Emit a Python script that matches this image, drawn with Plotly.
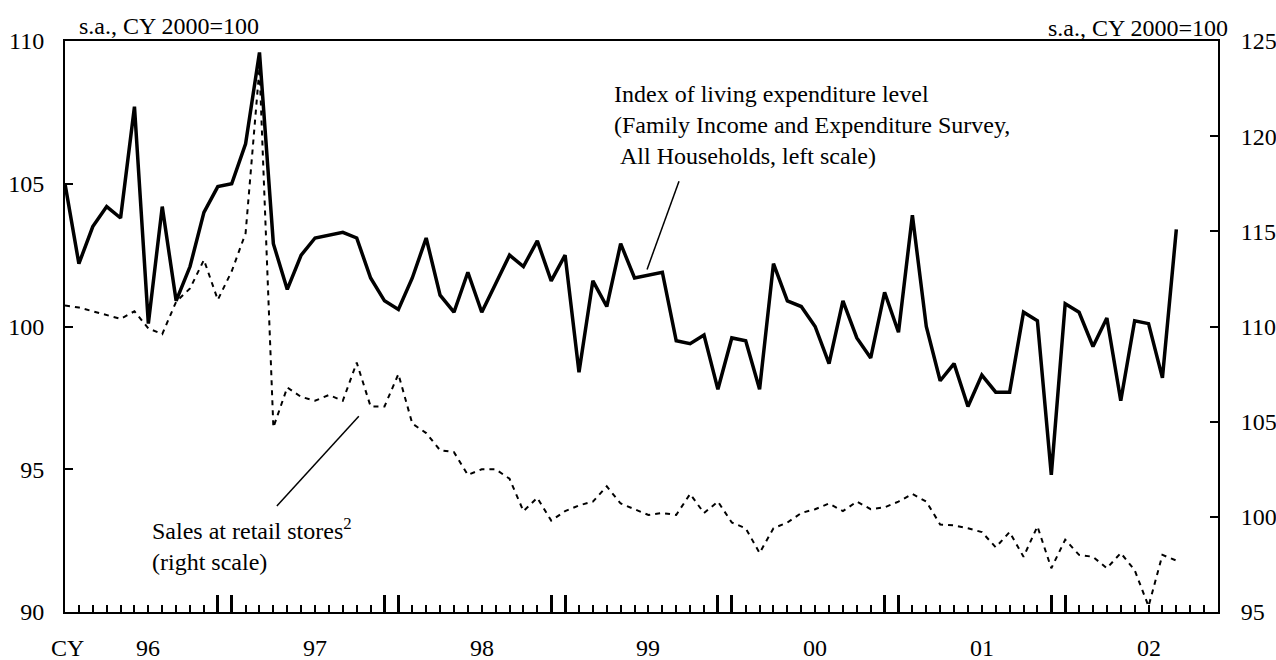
import plotly.graph_objects as go

# Monthly data, Jan 1996 - Sep 2002 (index 0 = Jan 1996)
living = [105.0, 102.2, 103.5, 104.2, 103.8, 107.7, 100.1, 104.2, 100.9, 102.1, 104.0, 104.9,
          105.0, 106.4, 109.6, 102.9, 101.3, 102.5, 103.1, 103.2, 103.3, 103.1, 101.7, 100.9,
          100.6, 101.7, 103.1, 101.1, 100.5, 101.9, 100.5, 101.5, 102.5, 102.1, 103.0, 101.6,
          102.5, 98.4, 101.6, 100.7, 102.9, 101.7, 101.8, 101.9, 99.5, 99.4, 99.7, 97.8,
          99.6, 99.5, 97.8, 102.2, 100.9, 100.7, 100.0, 98.7, 100.9, 99.6, 98.9, 101.2,
          99.8, 103.9, 100.0, 98.1, 98.7, 97.2, 98.3, 97.7, 97.7, 100.5, 100.2, 94.8,
          100.8, 100.5, 99.3, 100.3, 97.4, 100.2, 100.1, 98.2, 103.4]

retail = [111.1, 111.0, 110.8, 110.6, 110.4, 110.8, 109.9, 109.6, 111.3, 112.0, 113.5, 111.4,
          112.9, 114.9, 123.6, 104.7, 106.8, 106.3, 106.1, 106.4, 106.1, 108.1, 105.8, 105.8,
          107.5, 104.9, 104.4, 103.5, 103.4, 102.2, 102.5, 102.5, 102.0, 100.3, 101.0, 99.8,
          100.3, 100.6, 100.8, 101.6, 100.7, 100.4, 100.1, 100.2, 100.1, 101.2, 100.2, 100.8,
          99.7, 99.4, 98.1, 99.4, 99.7, 100.2, 100.4, 100.7, 100.3, 100.8, 100.4, 100.5,
          100.8, 101.2, 100.8, 99.6, 99.55, 99.4, 99.2, 98.4, 99.2, 97.9, 99.5, 97.3,
          98.8, 98.0, 97.9, 97.3, 98.1, 97.2, 95.3, 98.0, 97.7]

year_labels = ["96", "97", "98", "99", "00", "01", "02"]
left_ticks = [90, 95, 100, 105, 110]
right_ticks = [95, 100, 105, 110, 115, 120, 125]
n_months_axis = 84  # Jan 1996 .. Dec 2002

FONT = "Liberation Serif"
FS = 24

months = list(range(len(living)))

fig = go.Figure()
fig.add_trace(go.Scatter(x=months, y=retail, yaxis="y2", mode="lines",
                         line=dict(color="black", width=2, dash="5px,5px"),
                         showlegend=False, hoverinfo="skip"))
fig.add_trace(go.Scatter(x=months, y=living, yaxis="y", mode="lines",
                         line=dict(color="black", width=3.5),
                         showlegend=False, hoverinfo="skip"))

# Tall ticks at Dec and Jan of each year
tall = [0]
for k in range(1, 7):
    tall += [12 * k - 1, 12 * k]
tall.append(n_months_axis - 1)

fig.update_layout(
    width=1276, height=660,
    margin=dict(l=65, r=58, t=41, b=48, autoexpand=False),
    paper_bgcolor="white", plot_bgcolor="white",
    font=dict(family=FONT, size=FS, color="black"),
    xaxis=dict(range=[0, n_months_axis - 1], showgrid=False, zeroline=False,
               showline=True, linecolor="black", linewidth=2, mirror=True,
               tickmode="array", tickvals=tall, ticks="inside", ticklen=17,
               tickwidth=3, tickcolor="black", showticklabels=False, automargin=False,
               minor=dict(tickmode="linear", tick0=0, dtick=1, ticks="inside",
                          ticklen=7, tickwidth=1.5, tickcolor="black")),
    yaxis=dict(range=[90, 110], tickvals=left_ticks, showgrid=False, zeroline=False,
               showline=True, linecolor="black", linewidth=2, automargin=False,
               ticks="inside", ticklen=8, tickwidth=2, tickcolor="black",
               ticklabelstandoff=14),
    yaxis2=dict(range=[95, 125], tickvals=right_ticks, overlaying="y", side="right",
                showgrid=False, zeroline=False, showline=True, linecolor="black",
                linewidth=2, ticks="inside", ticklen=8, tickwidth=2, automargin=False,
                tickcolor="black", ticklabelstandoff=16),
)

ann = []
# year labels
ann.append(dict(x=0, y=0, xref="x", yref="paper", text="CY", showarrow=False,
                xanchor="center", yanchor="middle", yshift=-36, xshift=2))
for k, lab in enumerate(year_labels):
    ann.append(dict(x=12 * k + 6, y=0, xref="x", yref="paper", text=lab, showarrow=False,
                    xanchor="center", yanchor="middle", yshift=-36))
# unit labels
ann.append(dict(x=0, y=1, xref="paper", yref="paper", text="s.a., CY 2000=100",
                showarrow=False, xanchor="left", yanchor="middle", xshift=12, yshift=15))
ann.append(dict(x=1, y=1, xref="paper", yref="paper", text="s.a., CY 2000=100",
                showarrow=False, xanchor="right", yanchor="middle", xshift=12, yshift=13))
# series labels
ann.append(dict(x=39.4, y=107.05, xref="x", yref="y",
                text="Index of living expenditure level<br>(Family Income and Expenditure Survey,<br>\u00a0All Households, left scale)",
                showarrow=False, xanchor="left", yanchor="middle", align="left"))
ann.append(dict(x=6.1, y=92.38, xref="x", yref="y",
                text="Sales at retail stores<sup>2</sup><br>(right scale)",
                showarrow=False, xanchor="left", yanchor="middle", align="left"))
fig.update_layout(annotations=ann)

# pointer lines
fig.add_shape(type="line", xref="x", yref="y", x0=44.2, y0=105.09, x1=41.9, y1=102.0,
              line=dict(color="black", width=1.5))
fig.add_shape(type="line", xref="x", yref="y", x0=21.15, y0=96.86, x1=15.25, y1=93.71,
              line=dict(color="black", width=1.5))

fig.write_html("out.html", config={"displayModeBar": False},
               post_script="document.body.style.margin='0';document.body.style.padding='0';")
